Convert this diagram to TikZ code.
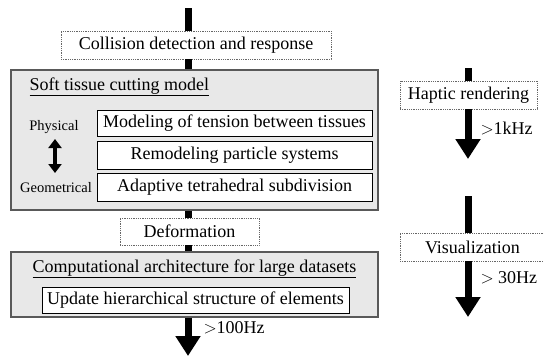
\documentclass[tikz,border=0pt]{standalone}
\usepackage{fontspec}
\setmainfont{Liberation Serif}
\usetikzlibrary{arrows.meta}
\usepackage{xcolor}

\tikzset{
  bar/.style={line width=7pt},
  flow/.style={line width=7pt,-{Triangle[width=24pt,length=20pt]}},
  dotbox/.style={draw=gray!80!black,densely dotted,thick,fill=white,minimum height=28pt,inner sep=0pt},
  bigbox/.style={draw=gray!70!black,line width=1.2pt,fill=gray!18,inner sep=0pt},
  subbox/.style={draw=black,line width=1pt,fill=white,inner sep=0pt},
  txt/.style={font=\fontsize{18}{21}\selectfont},
  sidetxt/.style={font=\fontsize{14.5}{17}\selectfont}
}

\begin{document}
\begin{tikzpicture}[x=1pt,y=-1pt]
    \useasboundingbox (0,0) rectangle (544,357);
    % colonne principale
    \coordinate (ax) at (188,0);
    \coordinate (top) at (188,8);
    \coordinate (bot) at (188,356);
    \node[dotbox,txt,minimum width=270pt] (coll) at (196,45) {Collision detection and response};
    \node[bigbox,minimum width=367pt,minimum height=140pt] (soft) at (194.5,140) {};
    \node[txt,anchor=base west] (softtitle) at (26,90) {\underline{Soft tissue cutting model}};
    \node[subbox,txt,minimum width=275pt,minimum height=26pt] (tension) at (234.5,123) {Modeling of tension between tissues};
    \node[subbox,txt,minimum width=275pt,minimum height=28pt] (particle) at (234.5,155) {Remodeling particle systems};
    \node[subbox,txt,minimum width=275pt,minimum height=28pt] (tetra) at (234.5,187) {Adaptive tetrahedral subdivision};
    \node[sidetxt] (phys) at (54,127) {Physical};
    \node[sidetxt] (geom) at (56,188) {Geometrical};
    \coordinate (dtop) at (55,139);
    \coordinate (dbot) at (55,173);
    \draw[line width=4pt,{Triangle[width=13pt,length=9pt]}-{Triangle[width=13pt,length=9pt]}] (dtop) -- (dbot);
    \node[dotbox,txt,minimum width=139pt,minimum height=27pt] (deform) at (189.5,231.5) {Deformation};
    \node[bigbox,minimum width=367pt,minimum height=65pt] (comp) at (194.5,284.5) {};
    \node[txt] (comptitle) at (194.5,269) {\underline{Computational architecture for large datasets}};
    \node[subbox,txt,minimum width=307pt,minimum height=26pt] (update) at (195.5,300) {Update hierarchical structure of elements};
    \draw[bar] (top) -- (ax |- coll.north);
    \draw[bar] (ax |- coll.south) -- (ax |- soft.north);
    \draw[bar] (ax |- soft.south) -- (ax |- deform.north);
    \draw[bar] (ax |- deform.south) -- (ax |- comp.north);
    \draw[flow] (ax |- comp.south) -- (bot);
    \node[txt,anchor=west] (rate1) at (200,328) {$>$100Hz};
    % colonne de droite
    \coordinate (htop) at (468,68);
    \coordinate (hbot) at (468,159);
    \node[dotbox,txt,minimum width=137pt] (haptic) at (468.5,95) {Haptic rendering};
    \draw[bar] (htop) -- (htop |- haptic.north);
    \draw[flow] (htop |- haptic.south) -- (hbot);
    \node[txt,anchor=west] (rate2) at (477,128) {$>$1kHz};
    \coordinate (vtop) at (468,196);
    \coordinate (vbot) at (468,317);
    \node[dotbox,txt,minimum width=144pt,text width=144pt,align=left,inner xsep=0pt] (visu) at (472,247) {\hspace*{25pt}Visualization};
    \draw[bar] (vtop) -- (vtop |- visu.north);
    \draw[flow] (vtop |- visu.south) -- (vbot);
    \node[txt,anchor=west] (rate3) at (477,278) {$>$ 30Hz};
\end{tikzpicture}
\end{document}
